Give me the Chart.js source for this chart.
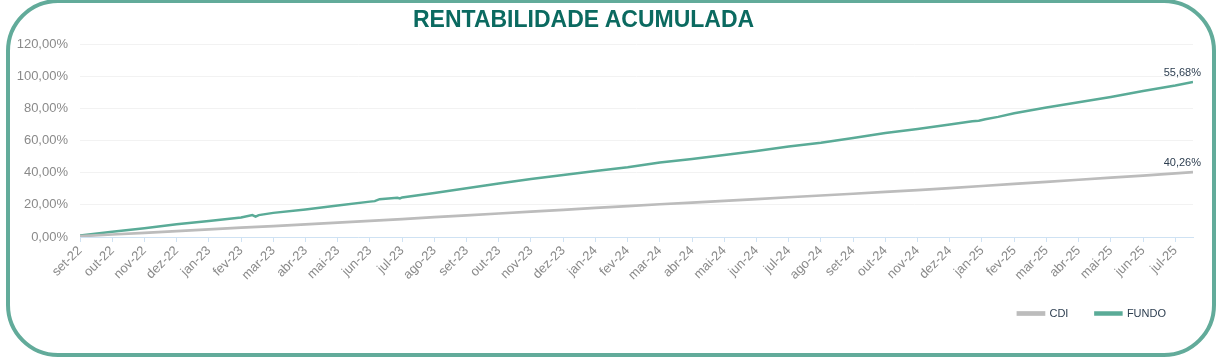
<!DOCTYPE html>
<html>
<head>
<meta charset="utf-8">
<script src="https://cdn.jsdelivr.net/npm/chart.js@4.4.1/dist/chart.umd.min.js"></script>
<style>
  html, body { margin: 0; padding: 0; background: #ffffff; }
  #wrap { position: relative; width: 1223px; height: 359px; overflow: hidden; font-family: "Liberation Sans", Arial, sans-serif; }
  #frame { position: absolute; left: 6px; top: -1px; width: 1202px; height: 350px; border: 4px solid #62ab9a; border-radius: 52px; pointer-events: none; }
  #title { position: absolute; left: 413px; top: 6px; font-size: 23px; font-weight: bold; color: #0b6a60; white-space: nowrap; letter-spacing: 0; }
  #c { position: absolute; left: 0; top: 0; }
</style>
</head>
<body>
<div id="wrap">
  <canvas id="c" width="1223" height="359"></canvas>
  <div id="frame"></div>
  <div id="title">RENTABILIDADE ACUMULADA</div>
</div>
<script>
// Month tick labels (x position = index)
const months = ["set-22","out-22","nov-22","dez-22","jan-23","fev-23","mar-23","abr-23","mai-23","jun-23","jul-23","ago-23","set-23","out-23","nov-23","dez-23","jan-24","fev-24","mar-24","abr-24","mai-24","jun-24","jul-24","ago-24","set-24","out-24","nov-24","dez-24","jan-25","fev-25","mar-25","abr-25","mai-25","jun-25","jul-25"];

// Y axis ticks
const yTicks = [0, 20, 40, 60, 80, 100, 120];

// FUNDO series (month position, value %)
const fundoAt = [0, 1, 2, 3, 4, 5, 5.35, 5.45, 5.55, 6, 7, 8, 9, 9.15, 9.3, 9.85, 9.93, 10, 11, 12, 13, 14, 15, 16, 17, 18, 19, 20, 21, 22, 23, 24, 25, 26, 27, 27.7, 27.9, 28.1, 28.5, 29, 30, 31, 32, 33, 34, 34.55];
const fundo   = [1.0, 3.3, 5.4, 7.9, 10.0, 12.1, 13.6, 12.7, 13.6, 15.0, 17.1, 19.6, 22.0, 22.3, 23.5, 24.4, 24.0, 24.6, 27.3, 30.3, 33.3, 36.0, 38.5, 41.0, 43.3, 46.3, 48.5, 51.0, 53.4, 56.2, 58.6, 61.6, 64.6, 67.2, 70.0, 72.0, 72.3, 73.2, 74.7, 77.0, 80.5, 83.8, 87.1, 90.8, 94.2, 96.4];

// CDI series (month position, value %)
const cdiAt = [0, 1, 2, 3, 4, 5, 6, 7, 8, 9, 10, 11, 12, 13, 14, 15, 16, 17, 18, 19, 20, 21, 22, 23, 24, 25, 26, 27, 28, 29, 30, 31, 32, 33, 34, 34.55];
const cdi   = [0.5, 1.55, 2.6, 3.7, 4.7, 5.8, 6.8, 7.9, 8.9, 10.0, 11.15, 12.3, 13.45, 14.6, 15.75, 16.9, 18.05, 19.2, 20.35, 21.4, 22.5, 23.6, 24.7, 25.8, 26.9, 28.0, 29.1, 30.4, 31.7, 33.0, 34.3, 35.6, 36.9, 38.2, 39.6, 40.3];

// End labels
const endLabels = ["40,26%", "55,68%"];
const seriesNames = ["CDI", "FUNDO"];

const FONT = "'Liberation Sans', Arial, sans-serif";
const GREEN = "#5aab97";
const GRAY = "#bcbcbc";

const endLabelPlugin = {
  id: 'endLabels',
  afterDatasetsDraw(chart) {
    const ctx = chart.ctx;
    ctx.save();
    ctx.font = "11px " + FONT;
    ctx.fillStyle = "#2d3e50";
    ctx.textAlign = "right";
    ctx.textBaseline = "middle";
    chart.data.datasets.forEach((ds, i) => {
      const meta = chart.getDatasetMeta(i);
      const pt = meta.data[meta.data.length - 1];
      if (pt) ctx.fillText(endLabels[i], pt.x + 8, pt.y - 9);
    });
    ctx.restore();
  }
};

new Chart(document.getElementById('c'), {
  type: 'line',
  data: {
    datasets: [
      {
        label: seriesNames[0],
        data: cdiAt.map((x, i) => ({ x: x, y: cdi[i] })),
        borderColor: GRAY,
        backgroundColor: GRAY,
        borderWidth: 2.7,
        pointRadius: 0,
        tension: 0,
        fill: false
      },
      {
        label: seriesNames[1],
        data: fundoAt.map((x, i) => ({ x: x, y: fundo[i] })),
        borderColor: GREEN,
        backgroundColor: GREEN,
        borderWidth: 2.5,
        pointRadius: 0,
        tension: 0,
        fill: false
      }
    ]
  },
  options: {
    responsive: false,
    animation: false,
    layout: { padding: { left: 0, right: 30, top: 44, bottom: 30 } },
    plugins: {
      title: { display: false },
      tooltip: { enabled: false },
      legend: {
        display: true,
        position: 'bottom',
        align: 'end',
        labels: {
          boxWidth: 26,
          boxHeight: 2,
          padding: 27,
          color: "#2d3e50",
          font: { family: FONT, size: 11 }
        }
      }
    },
    scales: {
      x: {
        type: 'linear',
        min: 0,
        max: 34.55,
        afterBuildTicks(scale) {
          scale.ticks = months.map((_, i) => ({ value: i }));
        },
        afterFit(scale) { scale.height = 44; },
        ticks: {
          autoSkip: false,
          minRotation: 45,
          maxRotation: 45,
          color: "#8a8a8a",
          padding: 1,
          font: { family: FONT, size: 13 },
          callback: (v) => months[v]
        },
        grid: {
          drawOnChartArea: false,
          drawTicks: true,
          tickLength: 5,
          color: "#cfe2f3"
        },
        border: { display: true, color: "#cfe2f3", width: 1 }
      },
      y: {
        min: 0,
        max: 120,
        afterBuildTicks(scale) {
          scale.ticks = yTicks.map(v => ({ value: v }));
        },
        afterFit(scale) { scale.width = 80; },
        ticks: {
          color: "#8a8a8a",
          padding: 12,
          font: { family: FONT, size: 13 },
          callback: (v) => v.toFixed(2).replace('.', ',') + '%'
        },
        grid: {
          drawTicks: false,
          color: "#f2f2f2",
          lineWidth: 1
        },
        border: { display: false }
      }
    }
  },
  plugins: [endLabelPlugin]
});
</script>
</body>
</html>
